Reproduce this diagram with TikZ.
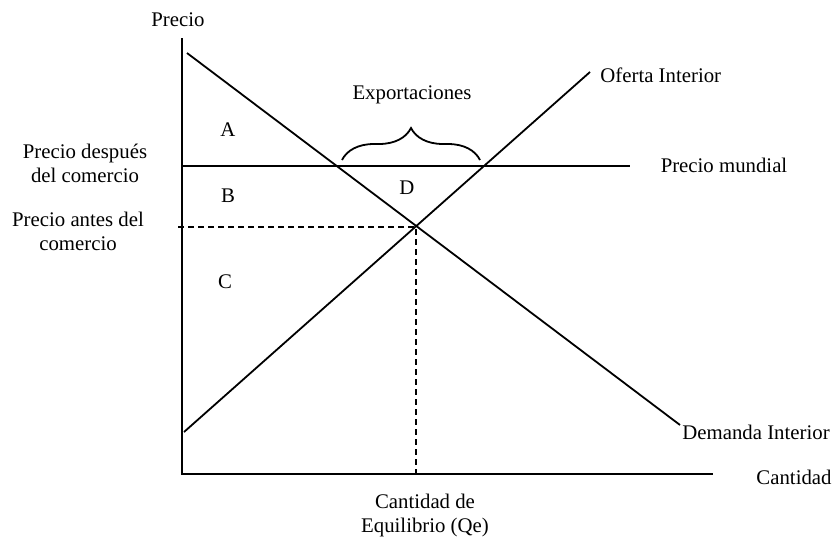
\documentclass[tikz,border=0pt]{standalone}
\usepackage{fontspec}
\setmainfont{Liberation Serif}
\usetikzlibrary{decorations.pathreplacing}
\begin{document}
\begin{tikzpicture}[x=0.5pt,y=-0.5pt,
    curva/.style ={line width=0.9pt},
    eje/.style ={line width=1.2pt},
    guia/.style ={line width=0.8pt, dash pattern=on 3pt off 2pt},
    rotulo/.style ={font=\fontsize{10.4}{12}\selectfont, inner sep=0pt, align=center}]
   \useasboundingbox (0,0) rectangle (835,541);
   % ejes
   \coordinate (O) at (182,474);
   \coordinate (Ytop) at (182,38);
   \coordinate (Xend) at (713,474);
   \draw[eje] (Ytop) -- (O) -- (Xend);
   % curvas
   \coordinate (D1) at (187,53);
   \coordinate (D2) at (680,425);
   \coordinate (S1) at (184,432);
   \coordinate (S2) at (590,72);
   \coordinate (W1) at (182,166);
   \coordinate (W2) at (630,166);
   \coordinate (E) at (416,227);
   \coordinate (Ey) at (178,227);
   \coordinate (Ex) at (416,478);
   \draw[curva] (D1) -- (D2);
   \draw[curva] (S1) -- (S2);
   \draw[curva] (W1) -- (W2);
   \draw[guia] (Ey) -- (E) -- (Ex);
   % llave
   \coordinate (B1) at (342,160);
   \coordinate (B2) at (480,160);
   \draw[curva, decorate, decoration={brace, amplitude=16pt}] (B1) -- (B2);
   % textos
   \node[rotulo] (precio) at (178,20) {Precio};
   \node[rotulo] (cantidad) at (794,477) {Cantidad};
   \node[rotulo, anchor=west] (oferta) at (600,75) {Oferta Interior};
   \node[rotulo, anchor=west] (demanda) at (682,432) {Demanda Interior};
   \node[rotulo] (mundial) at (724,165) {Precio mundial};
   \node[rotulo] (export) at (412,95) {Exportaciones};
   \node[rotulo] (pdesp) at (85,163) {Precio después\\del comercio};
   \node[rotulo] (pantes) at (78,231) {Precio antes del\\comercio};
   \node[rotulo] (qe) at (425,515) {Cantidad de\\Equilibrio (Qe)};
   \node[rotulo] (A) at (228,130) {A};
   \node[rotulo] (B) at (228,196) {B};
   \node[rotulo] (C) at (225,282) {C};
   \node[rotulo] (D) at (407,188) {D};
\end{tikzpicture}
\end{document}
